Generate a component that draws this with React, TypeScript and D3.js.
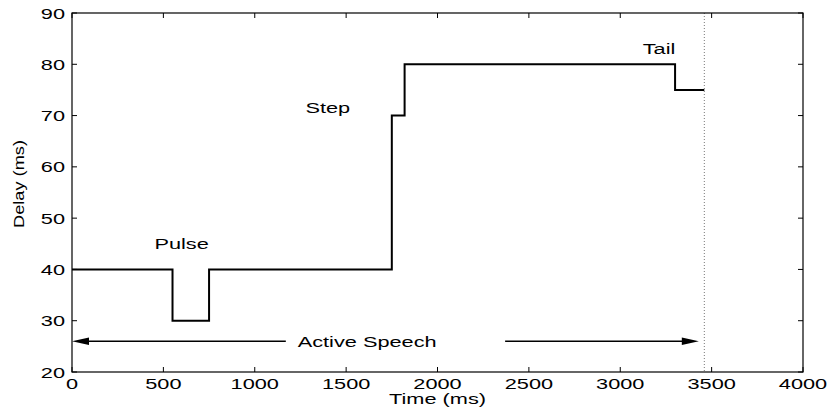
import React from "react";
import * as d3 from "d3";

// Delay trajectory (step function)
const stepTimes = [0, 550, 750, 1750, 1820, 3300, 3460];
const stepDelays = [40, 30, 40, 70, 80, 75, 75];

const xTicks = [0, 500, 1000, 1500, 2000, 2500, 3000, 3500, 4000];
const yTicks = [20, 30, 40, 50, 60, 70, 80, 90];

const endOfSpeech = 3460;
const arrowLevel = 26;
const arrowLeft = [0, 1170];
const arrowRight = [2370, 3430];

const annotations = [
  { text: "Pulse", t: 600, d: 43.9 },
  { text: "Step", t: 1400, d: 70.5 },
  { text: "Tail", t: 3212, d: 82.1 },
];
const speechLabel = { text: "Active Speech", t: 1615, d: 24.8 };

const W = 832, H = 413;
const M = { left: 72, right: 29, top: 13, bottom: 41 };
const SX = 1.45;
const FONT = "Liberation Sans, Arial, Helvetica, sans-serif";

function T({ x, y, children, anchor = "middle", size = 15, sx = SX, rotate = 0 }: any) {
  return (
    <text
      transform={`translate(${x},${y}) rotate(${rotate}) scale(${sx},1)`}
      textAnchor={anchor}
      fontFamily={FONT}
      fontSize={size}
      fill="#000"
    >
      {children}
    </text>
  );
}

export default function App() {
  const x = d3.scaleLinear().domain([0, 4000]).range([M.left, W - M.right]);
  const y = d3.scaleLinear().domain([20, 90]).range([H - M.bottom, M.top]);
  const pts: [number, number][] = stepTimes.map((t, i) => [t, stepDelays[i]]);
  const line = d3
    .line<[number, number]>()
    .x((d) => x(d[0]))
    .y((d) => y(d[1]))
    .curve(d3.curveStepAfter);
  const x0 = x(0), x1 = x(4000), y0 = y(20), y1 = y(90);
  const tick = 5;
  const ay = y(arrowLevel);
  const ah = 17, aw = 3.8;

  return (
    <svg width={W} height={H} style={{ position: "absolute", left: 0, top: 0, background: "#fff" }}>
      <rect x={0} y={0} width={W} height={H} fill="#fff" />
      {/* ticks */}
      {xTicks.map((t) => (
        <g key={"xt" + t}>
          <line x1={x(t)} x2={x(t)} y1={y0} y2={y0 - tick} stroke="#000" strokeWidth={1} />
          <line x1={x(t)} x2={x(t)} y1={y1} y2={y1 + tick} stroke="#000" strokeWidth={1} />
          <T x={x(t)} y={y0 + 17}>{t}</T>
        </g>
      ))}
      {yTicks.map((v) => (
        <g key={"yt" + v}>
          <line x1={x0} x2={x0 + tick} y1={y(v)} y2={y(v)} stroke="#000" strokeWidth={1} />
          <line x1={x1} x2={x1 - tick} y1={y(v)} y2={y(v)} stroke="#000" strokeWidth={1} />
          <T x={x0 - 7} y={y(v) + 5.5} anchor="end">{v}</T>
        </g>
      ))}
      {/* end-of-speech marker */}
      <line x1={x(endOfSpeech)} x2={x(endOfSpeech)} y1={y1} y2={y0} stroke="#777" strokeWidth={1} strokeDasharray="1,2" />
      {/* delay step line */}
      <path d={line(pts) || ""} fill="none" stroke="#000" strokeWidth={2} />
      {/* active speech arrow */}
      <line x1={x(arrowLeft[0]) + ah - 1} x2={x(arrowLeft[1])} y1={ay} y2={ay} stroke="#000" strokeWidth={1.5} />
      <line x1={x(arrowRight[0])} x2={x(arrowRight[1]) - ah + 1} y1={ay} y2={ay} stroke="#000" strokeWidth={1.5} />
      <polygon points={`${x(arrowLeft[0])},${ay} ${x(arrowLeft[0]) + ah},${ay - aw} ${x(arrowLeft[0]) + ah},${ay + aw}`} fill="#000" />
      <polygon points={`${x(arrowRight[1])},${ay} ${x(arrowRight[1]) - ah},${ay - aw} ${x(arrowRight[1]) - ah},${ay + aw}`} fill="#000" />
      <T x={x(speechLabel.t)} y={y(speechLabel.d)}>{speechLabel.text}</T>
      {annotations.map((a) => (
        <T key={a.text} x={x(a.t)} y={y(a.d)}>{a.text}</T>
      ))}
      {/* frame */}
      <rect x={x0} y={y1} width={x1 - x0} height={y0 - y1} fill="none" stroke="#000" strokeWidth={1.2} />
      {/* axis labels */}
      <T x={(x0 + x1) / 2} y={404}>Time (ms)</T>
      <T x={24} y={184} rotate={-90} size={14} sx={1.3}>Delay (ms)</T>
    </svg>
  );
}
